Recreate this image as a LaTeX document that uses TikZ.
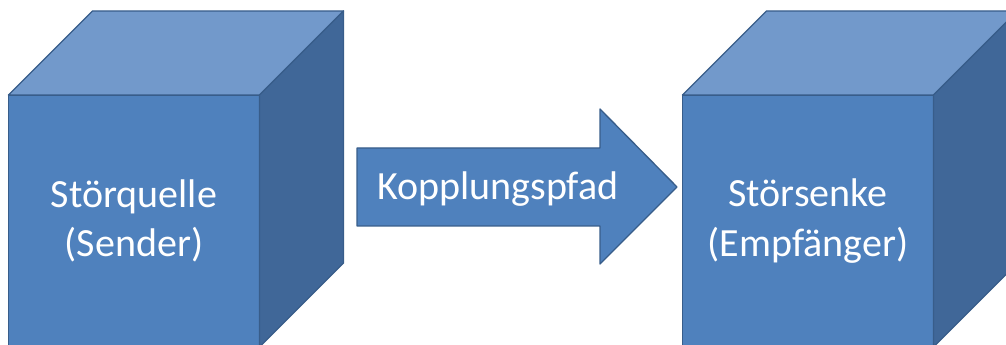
\documentclass[tikz,border=0pt]{standalone}
\usepackage{fontspec}
\setmainfont{Carlito}
\definecolor{emv_front}{RGB}{79, 129, 189}
\definecolor{emv_top}{RGB}{114, 153, 203}
\definecolor{emv_side}{RGB}{64, 103, 152}
\definecolor{emv_line}{RGB}{56, 93, 138}
\usetikzlibrary{calc}

\begin{document}
\begin{tikzpicture}[x=0.75pt, y=-0.75pt, line join=round,
    front/.style={draw=emv_line, fill=emv_front, line width=1pt,
      minimum width=188.25pt, minimum height=189pt, inner sep=0pt, outer sep=0pt,
      text=white, align=center, font=\fontsize{30}{37}\selectfont},
    topface/.style={draw=emv_line, fill=emv_top, line width=1pt},
    sideface/.style={draw=emv_line, fill=emv_side, line width=1pt}]
        \useasboundingbox (0,0) rectangle (1006,345);
        \clip (0,0) rectangle (1006,345);
        % Vorderseiten der Würfel
        \node[front] (quelle) at (134,221) {Störquelle\\(Sender)};
        \node[front] (senke)  at (808,221) {Störsenke\\(Empfänger)};
        % Deckel und Seitenflächen
        \foreach \w in {quelle, senke} {
          \filldraw[topface] (\w.north west) -- ++(84,-84)
            -- ($(\w.north east)+(84,-84)$) -- (\w.north east) -- cycle;
          \filldraw[sideface] (\w.north east) -- ++(84,-84)
            -- ($(\w.south east)+(84,-84)$) -- (\w.south east) -- cycle;
        }
        % Blockpfeil
        \filldraw[draw=emv_line, fill=emv_front, line width=1pt]
          (357,148) -- (600,148) -- (600,109) -- (677,187)
          -- (600,264) -- (600,226) -- (357,226) -- cycle;
        \node[text=white, font=\fontsize{30}{37}\selectfont, anchor=base]
          (pfad) at (498,200) {Kopplungspfad};
      \end{tikzpicture}
\end{document}
